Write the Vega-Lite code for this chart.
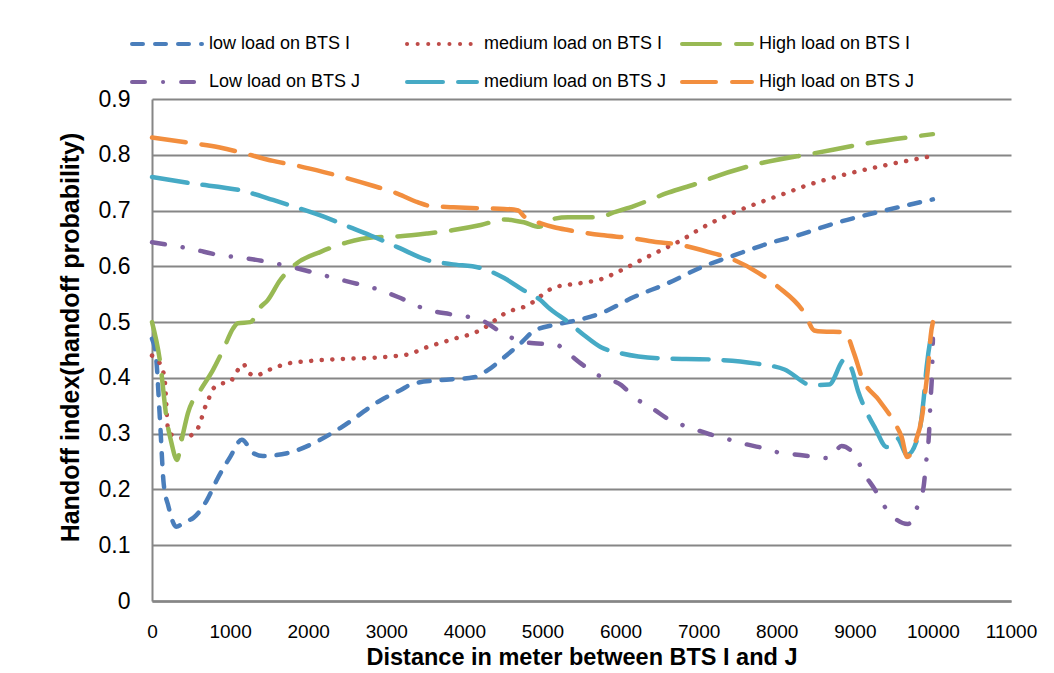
{
  "$schema": "https://vega.github.io/schema/vega-lite/v6.json",
  "width": 859,
  "height": 502,
  "autosize": {"type": "none"},
  "padding": {"left": 152, "top": 99, "right": 43, "bottom": 72},
  "background": "white",
  "config": {"view": {"stroke": null}, "font": "Liberation Sans"},
  "data": {
    "values": [
      {"s":"low load on BTS I","x":0,"y":0.47},{"s":"low load on BTS I","x":50,"y":0.44},{"s":"low load on BTS I","x":100,"y":0.33},{"s":"low load on BTS I","x":150,"y":0.21},{"s":"low load on BTS I","x":210,"y":0.17},{"s":"low load on BTS I","x":310,"y":0.133},{"s":"low load on BTS I","x":420,"y":0.142},{"s":"low load on BTS I","x":530,"y":0.149},{"s":"low load on BTS I","x":700,"y":0.18},{"s":"low load on BTS I","x":830,"y":0.217},{"s":"low load on BTS I","x":1000,"y":0.258},{"s":"low load on BTS I","x":1150,"y":0.289},{"s":"low load on BTS I","x":1300,"y":0.265},{"s":"low load on BTS I","x":1420,"y":0.26},{"s":"low load on BTS I","x":1730,"y":0.265},{"s":"low load on BTS I","x":2070,"y":0.283},{"s":"low load on BTS I","x":2410,"y":0.31},{"s":"low load on BTS I","x":2930,"y":0.36},{"s":"low load on BTS I","x":3180,"y":0.378},{"s":"low load on BTS I","x":3350,"y":0.39},{"s":"low load on BTS I","x":3700,"y":0.396},{"s":"low load on BTS I","x":4120,"y":0.401},{"s":"low load on BTS I","x":4300,"y":0.414},{"s":"low load on BTS I","x":4510,"y":0.437},{"s":"low load on BTS I","x":4720,"y":0.462},{"s":"low load on BTS I","x":4890,"y":0.484},{"s":"low load on BTS I","x":5150,"y":0.495},{"s":"low load on BTS I","x":5330,"y":0.5},{"s":"low load on BTS I","x":5750,"y":0.516},{"s":"low load on BTS I","x":6170,"y":0.545},{"s":"low load on BTS I","x":6610,"y":0.57},{"s":"low load on BTS I","x":7030,"y":0.598},{"s":"low load on BTS I","x":7460,"y":0.62},{"s":"low load on BTS I","x":7890,"y":0.641},{"s":"low load on BTS I","x":8280,"y":0.656},{"s":"low load on BTS I","x":8740,"y":0.677},{"s":"low load on BTS I","x":9380,"y":0.7},{"s":"low load on BTS I","x":10000,"y":0.72},

      {"s":"medium load on BTS I","x":0,"y":0.44},{"s":"medium load on BTS I","x":100,"y":0.426},{"s":"medium load on BTS I","x":160,"y":0.4},{"s":"medium load on BTS I","x":210,"y":0.303},{"s":"medium load on BTS I","x":300,"y":0.295},{"s":"medium load on BTS I","x":400,"y":0.292},{"s":"medium load on BTS I","x":550,"y":0.303},{"s":"medium load on BTS I","x":620,"y":0.32},{"s":"medium load on BTS I","x":660,"y":0.34},{"s":"medium load on BTS I","x":720,"y":0.36},{"s":"medium load on BTS I","x":770,"y":0.378},{"s":"medium load on BTS I","x":870,"y":0.389},{"s":"medium load on BTS I","x":1000,"y":0.393},{"s":"medium load on BTS I","x":1080,"y":0.41},{"s":"medium load on BTS I","x":1170,"y":0.425},{"s":"medium load on BTS I","x":1230,"y":0.41},{"s":"medium load on BTS I","x":1330,"y":0.404},{"s":"medium load on BTS I","x":1460,"y":0.412},{"s":"medium load on BTS I","x":1600,"y":0.42},{"s":"medium load on BTS I","x":1750,"y":0.426},{"s":"medium load on BTS I","x":2000,"y":0.43},{"s":"medium load on BTS I","x":2440,"y":0.434},{"s":"medium load on BTS I","x":2820,"y":0.436},{"s":"medium load on BTS I","x":3100,"y":0.439},{"s":"medium load on BTS I","x":3330,"y":0.444},{"s":"medium load on BTS I","x":3460,"y":0.452},{"s":"medium load on BTS I","x":3610,"y":0.459},{"s":"medium load on BTS I","x":3890,"y":0.471},{"s":"medium load on BTS I","x":4150,"y":0.482},{"s":"medium load on BTS I","x":4270,"y":0.491},{"s":"medium load on BTS I","x":4380,"y":0.502},{"s":"medium load on BTS I","x":4510,"y":0.515},{"s":"medium load on BTS I","x":4810,"y":0.53},{"s":"medium load on BTS I","x":5150,"y":0.562},{"s":"medium load on BTS I","x":5490,"y":0.57},{"s":"medium load on BTS I","x":5750,"y":0.577},{"s":"medium load on BTS I","x":6010,"y":0.593},{"s":"medium load on BTS I","x":6260,"y":0.611},{"s":"medium load on BTS I","x":6520,"y":0.629},{"s":"medium load on BTS I","x":6780,"y":0.647},{"s":"medium load on BTS I","x":7030,"y":0.668},{"s":"medium load on BTS I","x":7460,"y":0.697},{"s":"medium load on BTS I","x":7890,"y":0.72},{"s":"medium load on BTS I","x":8150,"y":0.733},{"s":"medium load on BTS I","x":8320,"y":0.742},{"s":"medium load on BTS I","x":8830,"y":0.763},{"s":"medium load on BTS I","x":9380,"y":0.781},{"s":"medium load on BTS I","x":10000,"y":0.798},

      {"s":"High load on BTS I","x":0,"y":0.5},{"s":"High load on BTS I","x":100,"y":0.432},{"s":"High load on BTS I","x":190,"y":0.324},{"s":"High load on BTS I","x":250,"y":0.283},{"s":"High load on BTS I","x":320,"y":0.253},{"s":"High load on BTS I","x":380,"y":0.289},{"s":"High load on BTS I","x":460,"y":0.337},{"s":"High load on BTS I","x":620,"y":0.378},{"s":"High load on BTS I","x":780,"y":0.414},{"s":"High load on BTS I","x":910,"y":0.45},{"s":"High load on BTS I","x":1040,"y":0.489},{"s":"High load on BTS I","x":1100,"y":0.498},{"s":"High load on BTS I","x":1260,"y":0.5},{"s":"High load on BTS I","x":1390,"y":0.527},{"s":"High load on BTS I","x":1480,"y":0.539},{"s":"High load on BTS I","x":1640,"y":0.575},{"s":"High load on BTS I","x":1860,"y":0.606},{"s":"High load on BTS I","x":2160,"y":0.626},{"s":"High load on BTS I","x":2500,"y":0.643},{"s":"High load on BTS I","x":2840,"y":0.652},{"s":"High load on BTS I","x":3180,"y":0.654},{"s":"High load on BTS I","x":3530,"y":0.659},{"s":"High load on BTS I","x":3860,"y":0.665},{"s":"High load on BTS I","x":4210,"y":0.674},{"s":"High load on BTS I","x":4510,"y":0.684},{"s":"High load on BTS I","x":4760,"y":0.679},{"s":"High load on BTS I","x":4960,"y":0.671},{"s":"High load on BTS I","x":5110,"y":0.684},{"s":"High load on BTS I","x":5330,"y":0.688},{"s":"High load on BTS I","x":5750,"y":0.688},{"s":"High load on BTS I","x":5880,"y":0.695},{"s":"High load on BTS I","x":6170,"y":0.708},{"s":"High load on BTS I","x":6610,"y":0.732},{"s":"High load on BTS I","x":7030,"y":0.751},{"s":"High load on BTS I","x":7160,"y":0.758},{"s":"High load on BTS I","x":7800,"y":0.785},{"s":"High load on BTS I","x":8490,"y":0.803},{"s":"High load on BTS I","x":9180,"y":0.821},{"s":"High load on BTS I","x":10000,"y":0.837},

      {"s":"Low load on BTS J","x":0,"y":0.643},{"s":"Low load on BTS J","x":230,"y":0.638},{"s":"Low load on BTS J","x":510,"y":0.631},{"s":"Low load on BTS J","x":870,"y":0.62},{"s":"Low load on BTS J","x":1170,"y":0.615},{"s":"Low load on BTS J","x":1550,"y":0.606},{"s":"Low load on BTS J","x":1840,"y":0.597},{"s":"Low load on BTS J","x":2200,"y":0.584},{"s":"Low load on BTS J","x":2500,"y":0.573},{"s":"Low load on BTS J","x":2840,"y":0.561},{"s":"Low load on BTS J","x":3150,"y":0.545},{"s":"Low load on BTS J","x":3530,"y":0.522},{"s":"Low load on BTS J","x":3830,"y":0.514},{"s":"Low load on BTS J","x":4210,"y":0.504},{"s":"Low load on BTS J","x":4470,"y":0.482},{"s":"Low load on BTS J","x":4690,"y":0.467},{"s":"Low load on BTS J","x":4890,"y":0.462},{"s":"Low load on BTS J","x":5170,"y":0.46},{"s":"Low load on BTS J","x":5330,"y":0.444},{"s":"Low load on BTS J","x":5490,"y":0.426},{"s":"Low load on BTS J","x":5750,"y":0.402},{"s":"Low load on BTS J","x":6010,"y":0.387},{"s":"Low load on BTS J","x":6170,"y":0.366},{"s":"Low load on BTS J","x":6420,"y":0.344},{"s":"Low load on BTS J","x":6650,"y":0.323},{"s":"Low load on BTS J","x":6870,"y":0.312},{"s":"Low load on BTS J","x":7140,"y":0.299},{"s":"Low load on BTS J","x":7330,"y":0.292},{"s":"Low load on BTS J","x":7550,"y":0.283},{"s":"Low load on BTS J","x":7830,"y":0.274},{"s":"Low load on BTS J","x":8000,"y":0.267},{"s":"Low load on BTS J","x":8220,"y":0.263},{"s":"Low load on BTS J","x":8510,"y":0.258},{"s":"Low load on BTS J","x":8680,"y":0.256},{"s":"Low load on BTS J","x":8830,"y":0.278},{"s":"Low load on BTS J","x":8990,"y":0.263},{"s":"Low load on BTS J","x":9130,"y":0.226},{"s":"Low load on BTS J","x":9260,"y":0.199},{"s":"Low load on BTS J","x":9350,"y":0.176},{"s":"Low load on BTS J","x":9470,"y":0.154},{"s":"Low load on BTS J","x":9680,"y":0.138},{"s":"Low load on BTS J","x":9820,"y":0.177},{"s":"Low load on BTS J","x":9880,"y":0.204},{"s":"Low load on BTS J","x":9910,"y":0.245},{"s":"Low load on BTS J","x":9950,"y":0.3},{"s":"Low load on BTS J","x":9970,"y":0.36},{"s":"Low load on BTS J","x":9990,"y":0.414},{"s":"Low load on BTS J","x":10000,"y":0.47},

      {"s":"medium load on BTS J","x":0,"y":0.76},{"s":"medium load on BTS J","x":490,"y":0.749},{"s":"medium load on BTS J","x":1170,"y":0.735},{"s":"medium load on BTS J","x":1550,"y":0.719},{"s":"medium load on BTS J","x":1840,"y":0.706},{"s":"medium load on BTS J","x":2200,"y":0.689},{"s":"medium load on BTS J","x":2500,"y":0.672},{"s":"medium load on BTS J","x":2840,"y":0.653},{"s":"medium load on BTS J","x":3150,"y":0.634},{"s":"medium load on BTS J","x":3530,"y":0.611},{"s":"medium load on BTS J","x":3830,"y":0.604},{"s":"medium load on BTS J","x":4210,"y":0.597},{"s":"medium load on BTS J","x":4510,"y":0.579},{"s":"medium load on BTS J","x":4760,"y":0.557},{"s":"medium load on BTS J","x":4980,"y":0.539},{"s":"medium load on BTS J","x":5070,"y":0.527},{"s":"medium load on BTS J","x":5330,"y":0.5},{"s":"medium load on BTS J","x":5530,"y":0.477},{"s":"medium load on BTS J","x":5750,"y":0.455},{"s":"medium load on BTS J","x":6010,"y":0.444},{"s":"medium load on BTS J","x":6520,"y":0.435},{"s":"medium load on BTS J","x":7160,"y":0.433},{"s":"medium load on BTS J","x":7720,"y":0.426},{"s":"medium load on BTS J","x":8100,"y":0.415},{"s":"medium load on BTS J","x":8450,"y":0.387},{"s":"medium load on BTS J","x":8670,"y":0.388},{"s":"medium load on BTS J","x":8870,"y":0.433},{"s":"medium load on BTS J","x":8960,"y":0.416},{"s":"medium load on BTS J","x":9040,"y":0.377},{"s":"medium load on BTS J","x":9150,"y":0.339},{"s":"medium load on BTS J","x":9260,"y":0.31},{"s":"medium load on BTS J","x":9410,"y":0.276},{"s":"medium load on BTS J","x":9540,"y":0.292},{"s":"medium load on BTS J","x":9670,"y":0.262},{"s":"medium load on BTS J","x":9820,"y":0.3},{"s":"medium load on BTS J","x":9880,"y":0.36},{"s":"medium load on BTS J","x":9920,"y":0.42},{"s":"medium load on BTS J","x":9970,"y":0.47},{"s":"medium load on BTS J","x":10000,"y":0.49},

      {"s":"High load on BTS J","x":0,"y":0.831},{"s":"High load on BTS J","x":510,"y":0.821},{"s":"High load on BTS J","x":870,"y":0.813},{"s":"High load on BTS J","x":1170,"y":0.803},{"s":"High load on BTS J","x":1550,"y":0.789},{"s":"High load on BTS J","x":1840,"y":0.781},{"s":"High load on BTS J","x":2200,"y":0.769},{"s":"High load on BTS J","x":2500,"y":0.758},{"s":"High load on BTS J","x":2840,"y":0.744},{"s":"High load on BTS J","x":3150,"y":0.73},{"s":"High load on BTS J","x":3400,"y":0.715},{"s":"High load on BTS J","x":3570,"y":0.708},{"s":"High load on BTS J","x":3860,"y":0.706},{"s":"High load on BTS J","x":4210,"y":0.704},{"s":"High load on BTS J","x":4510,"y":0.703},{"s":"High load on BTS J","x":4690,"y":0.7},{"s":"High load on BTS J","x":4760,"y":0.69},{"s":"High load on BTS J","x":4980,"y":0.677},{"s":"High load on BTS J","x":5150,"y":0.67},{"s":"High load on BTS J","x":5330,"y":0.665},{"s":"High load on BTS J","x":5750,"y":0.656},{"s":"High load on BTS J","x":6170,"y":0.65},{"s":"High load on BTS J","x":6480,"y":0.643},{"s":"High load on BTS J","x":6690,"y":0.64},{"s":"High load on BTS J","x":7120,"y":0.626},{"s":"High load on BTS J","x":7460,"y":0.611},{"s":"High load on BTS J","x":7770,"y":0.588},{"s":"High load on BTS J","x":8020,"y":0.563},{"s":"High load on BTS J","x":8360,"y":0.515},{"s":"High load on BTS J","x":8480,"y":0.485},{"s":"High load on BTS J","x":8580,"y":0.483},{"s":"High load on BTS J","x":8870,"y":0.482},{"s":"High load on BTS J","x":8990,"y":0.444},{"s":"High load on BTS J","x":9090,"y":0.401},{"s":"High load on BTS J","x":9310,"y":0.36},{"s":"High load on BTS J","x":9510,"y":0.319},{"s":"High load on BTS J","x":9600,"y":0.294},{"s":"High load on BTS J","x":9670,"y":0.258},{"s":"High load on BTS J","x":9770,"y":0.283},{"s":"High load on BTS J","x":9860,"y":0.33},{"s":"High load on BTS J","x":9900,"y":0.373},{"s":"High load on BTS J","x":9950,"y":0.437},{"s":"High load on BTS J","x":9970,"y":0.473},{"s":"High load on BTS J","x":10000,"y":0.5}
    ]
  },
  "mark": {"type": "line", "interpolate": "monotone", "strokeWidth": 4.5, "strokeCap": "round"},
  "encoding": {
    "x": {
      "field": "x", "type": "quantitative",
      "scale": {"domain": [0, 11000], "nice": false, "zero": false},
      "axis": {
        "title": "Distance in meter between BTS I and J",
        "values": [0,1000,2000,3000,4000,5000,6000,7000,8000,9000,10000,11000],
        "format": "d", "grid": false, "ticks": false,
        "domainColor": "#868686", "domainWidth": 2.5,
        "labelFont": "Liberation Sans", "labelFontSize": 19, "labelColor": "#000000",
        "labelPadding": 21, "labelFlush": false, "labelOverlap": false,
        "titleFont": "Liberation Sans", "titleFontSize": 23.5, "titleFontWeight": "bold", "titleColor": "#000000",
        "titleY": 56, "titleBaseline": "middle"
      }
    },
    "y": {
      "field": "y", "type": "quantitative",
      "scale": {"domain": [0, 0.9], "nice": false},
      "axis": {
        "title": "Handoff index(handoff probability)",
        "values": [0,0.1,0.2,0.3,0.4,0.5,0.6,0.7,0.8,0.9],
        "labelExpr": "datum.value == 0 ? '0' : format(datum.value, '.1f')",
        "grid": true, "gridColor": "#868686", "gridWidth": 2,
        "ticks": false, "domainColor": "#868686", "domainWidth": 2,
        "labelFont": "Liberation Sans", "labelFontSize": 23, "labelColor": "#000000",
        "labelPadding": 22,
        "titleFont": "Liberation Sans", "titleFontSize": 25, "titleFontWeight": "bold", "titleColor": "#000000",
        "titleX": -82, "titleY": 238, "titleAngle": -90, "titleBaseline": "middle", "titleAlign": "center"
      }
    },
    "color": {
      "field": "s", "type": "nominal",
      "scale": {
        "domain": ["low load on BTS I","medium load on BTS I","High load on BTS I","Low load on BTS J","medium load on BTS J","High load on BTS J"],
        "range": ["#4a7ebb","#be4b48","#98b954","#7d60a0","#46aac5","#f28e3e"]
      },
      "legend": {
        "title": null, "orient": "none", "legendX": -29, "legendY": -64, "direction": "horizontal",
        "columns": 3, "gridAlign": "all", "columnPadding": 6, "rowPadding": 20,
        "symbolType": "M0,0H14", "symbolSize": 100, "symbolStrokeWidth": 4,
        "labelFont": "Liberation Sans", "labelFontSize": 18, "labelColor": "#000000",
        "labelOffset": 68, "labelLimit": 400,
        "encode": {"symbols": {"update": {"strokeCap": {"value": "round"}}}}
      }
    },
    "strokeDash": {
      "field": "s", "type": "nominal",
      "scale": {
        "domain": ["low load on BTS I","medium load on BTS I","High load on BTS I","Low load on BTS J","medium load on BTS J","High load on BTS J"],
        "range": [[11,12],[0.1,10.5],[38,16],[13,18,0.1,18],[36,15],[34,16]]
      },
      "legend": {
        "title": null, "orient": "none", "legendX": -29, "legendY": -64, "direction": "horizontal",
        "columns": 3, "gridAlign": "all", "columnPadding": 6, "rowPadding": 20,
        "symbolType": "M0,0H14", "symbolSize": 100, "symbolStrokeWidth": 4,
        "labelFont": "Liberation Sans", "labelFontSize": 18, "labelColor": "#000000",
        "labelOffset": 68, "labelLimit": 400,
        "encode": {"symbols": {"update": {"strokeCap": {"value": "round"}}}}
      }
    }
  }
}
